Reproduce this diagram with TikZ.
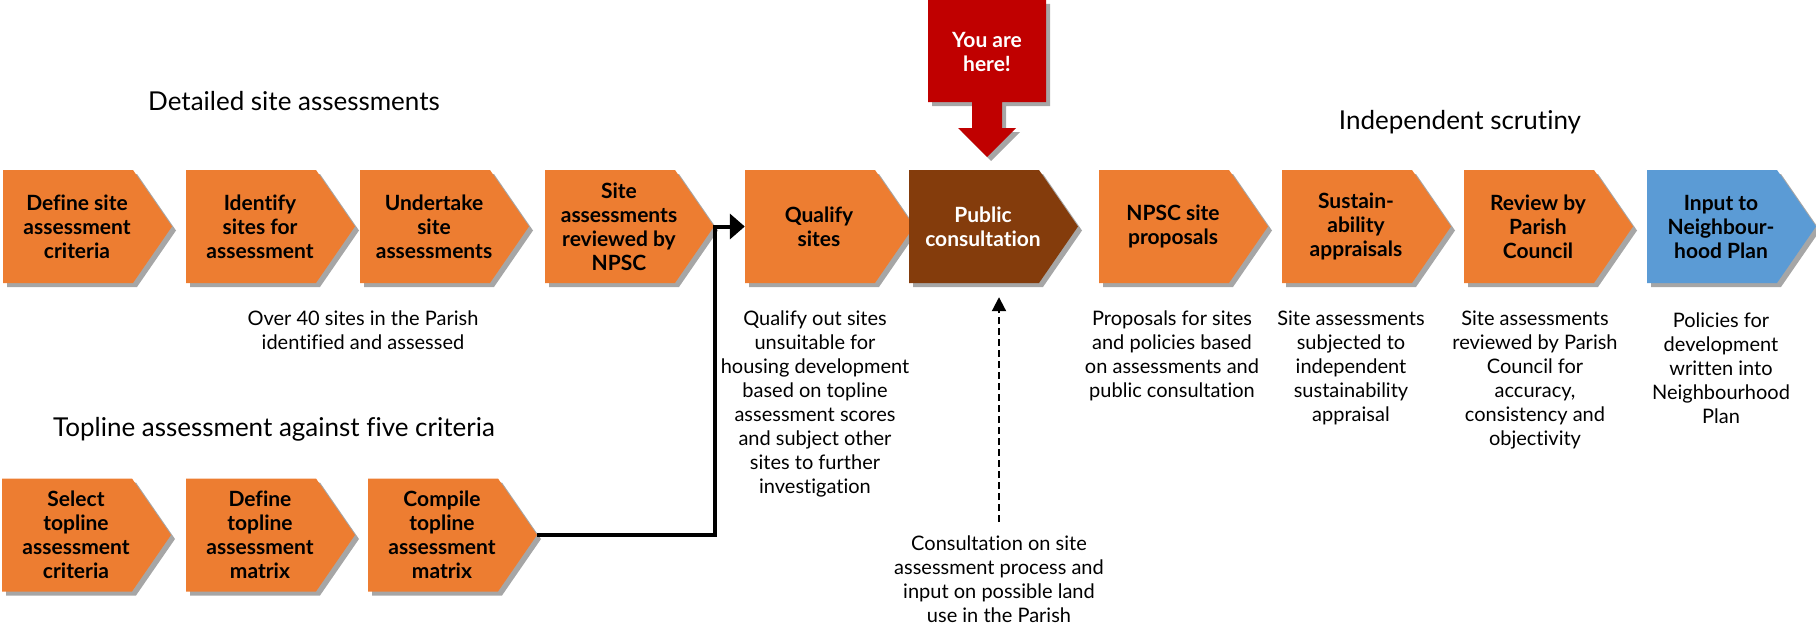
\documentclass[tikz,border=0pt]{standalone}
\usepackage{fontspec}
\setmainfont{Lato}[Ligatures={NoCommon,NoDiscretionary,NoRare}]
\usetikzlibrary{shadows,arrows.meta,calc}
\definecolor{orng}{HTML}{ED7D31}
\definecolor{brn}{HTML}{843C0C}
\definecolor{redb}{HTML}{C00000}
\definecolor{blu}{HTML}{5B9BD5}
\tikzset{
  boxtext/.style={font=\fontsize{21}{24}\selectfont\bfseries, align=center, minimum width=148pt, minimum height=113pt, inner sep=0pt},
  desc/.style={font=\fontsize{20}{24}\selectfont, align=center, inner sep=0pt, anchor=north},
  ttl/.style={font=\fontsize{26}{30}\selectfont, inner sep=0pt},
  shad/.style={drop shadow={shadow xshift=4pt, shadow yshift=-4pt, opacity=0.35, fill=black}},
  thickconn/.style={line width=4pt, -{Triangle[length=15pt,width=25pt]}},
  dashconn/.style={line width=2pt, dash pattern=on 7pt off 4pt, -{Triangle[length=14pt,width=14pt]}},
}
% #1 name, #2 x start, #3 y center, #4 fill, #5 text colour, #6 text
\newcommand\chevron[6]{%
  \fill[#4, shad] (#2,#3-56.5) -- (#2+130,#3-56.5) -- (#2+169,#3) -- (#2+130,#3+56.5) -- (#2,#3+56.5) -- cycle;
  \node[boxtext, text=#5] (#1) at (#2+74,#3) {#6};
  \coordinate (#1tip) at (#2+169,#3);
}
\begin{document}
\begin{tikzpicture}[x=1pt,y=-1pt]
\useasboundingbox (0,0) rectangle (1816,626);
% titles
\node[ttl] (t1) at (294,101) {Detailed site assessments};
\node[ttl] (t2) at (274,429) {Topline assessment against five criteria};
\node[ttl] (t3) at (1460,122) {Independent scrutiny};
% top row
\chevron{b1}{3}{226.5}{orng}{black}{Define site\\assessment\\criteria}
\chevron{b2}{186}{226.5}{orng}{black}{Identify\\sites for\\assessment}
\chevron{b3}{360}{226.5}{orng}{black}{Undertake\\site\\assessments}
\chevron{b4}{545}{226.5}{orng}{black}{Site\\assessments\\reviewed by\\NPSC}
\chevron{b5}{745}{226.5}{orng}{black}{Qualify\\sites}
\chevron{b6}{909}{226.5}{brn}{white}{Public\\consultation}
\chevron{b7}{1099}{226.5}{orng}{black}{NPSC site\\proposals}
\chevron{b8}{1282}{226.5}{orng}{black}{Sustain-\\ability\\appraisals}
\chevron{b9}{1464}{226.5}{orng}{black}{Review by\\Parish\\Council}
\chevron{b10}{1647}{226.5}{blu}{black}{Input to\\Neighbour-\\hood Plan}
% bottom row
\chevron{c1}{2}{535}{orng}{black}{Select\\topline\\assessment\\criteria}
\chevron{c2}{186}{535}{orng}{black}{Define\\topline\\assessment\\matrix}
\chevron{c3}{368}{535}{orng}{black}{Compile\\topline\\assessment\\matrix}
% you are here
\fill[redb, shad] (928,0) -- (1046,0) -- (1046,102) -- (1002,102) -- (1002,128) -- (1016,128)
  -- (987,157) -- (958,128) -- (972,128) -- (972,102) -- (928,102) -- cycle;
\node[font=\fontsize{21}{24}\selectfont\bfseries, text=white, align=center, inner sep=0pt] (here) at (987,52) {You are\\here!};
% descriptions
\node[desc] (d3) at (363,311) {Over 40 sites in the Parish\\identified and assessed};
\node[desc] (d5) at (815,311) {Qualify out sites\\unsuitable for\\housing development\\based on topline\\assessment scores\\and subject other\\sites to further\\investigation};
\node[desc] (d7) at (1172,311) {Proposals for sites\\and policies based\\on assessments and\\public consultation};
\node[desc] (d8) at (1351,311) {Site assessments\\subjected to\\independent\\sustainability\\appraisal};
\node[desc] (d9) at (1535,311) {Site assessments\\reviewed by Parish\\Council for\\accuracy,\\consistency and\\objectivity};
\node[desc] (d10) at (1721,313) {Policies for\\development\\written into\\Neighbourhood\\Plan};
\node[desc] (d6) at (999,536) {Consultation on site\\assessment process and\\input on possible land\\use in the Parish};
% connectors
\draw[thickconn] (c3tip) -- ++(178,0) |- (b5.west);
\coordinate (cons) at (999,522);
\draw[dashconn, shorten >=14pt] (cons) -- (cons |- b6.south);
\end{tikzpicture}
\end{document}
